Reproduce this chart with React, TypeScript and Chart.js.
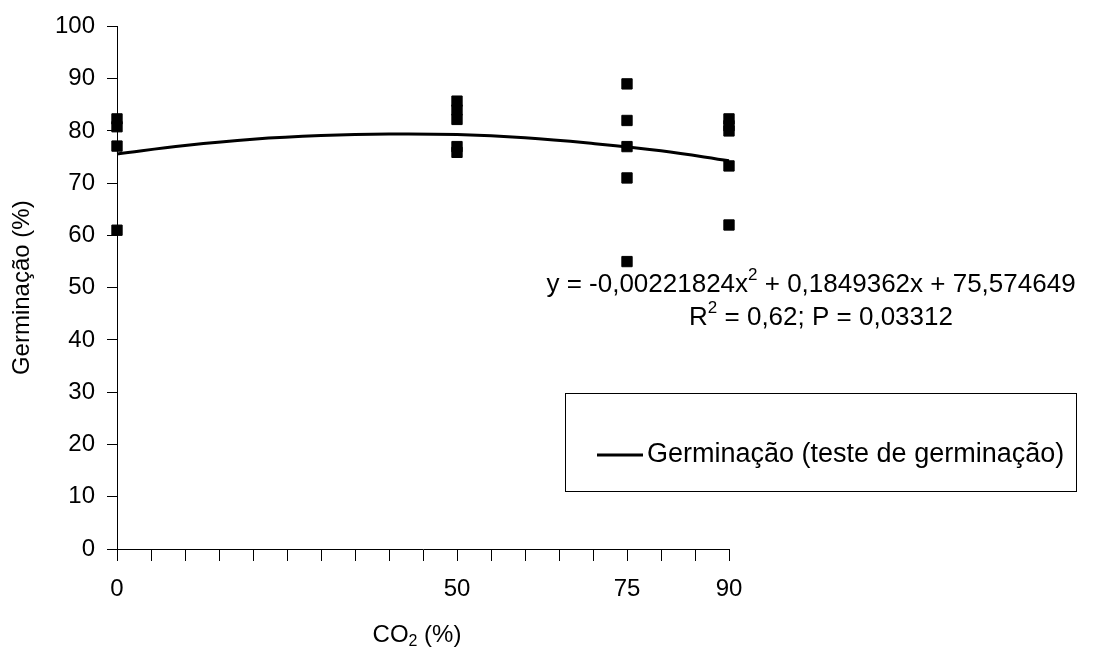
import React, { useEffect, useRef } from 'react';
import { Chart, registerables } from 'chart.js';

Chart.register(...registerables);

const FONT = '"Liberation Sans", Arial, Helvetica, sans-serif';

// Observed germination (%) per CO2 level (%)
const germAt0 = [82.3, 80.8, 77.1, 61];
const germAt50 = [85.7, 84.0, 82.2, 77.0, 75.9];
const germAt75 = [89, 82, 77, 71, 55];
const germAt90 = [82.3, 81, 80, 73.3, 62];

// Fitted curve
const fitX = [0, 10, 20, 30, 40, 50, 60, 70, 80, 90];
const fitY = [75.6, 77.2, 78.4, 79.1, 79.4, 79.3, 78.7, 77.6, 76.2, 74.3];

const xLabelled = [0, 50, 75, 90];
const legendLabel = 'Germinação (teste de germinação)';
const eqLine1 = [
  { t: 'y = -0,00221824x' },
  { t: '2', sup: true },
  { t: ' + 0,1849362x + 75,574649' },
];
const eqLine2 = [
  { t: 'R' },
  { t: '2', sup: true },
  { t: ' = 0,62; P = 0,03312' },
];
const xTitle = [{ t: 'CO' }, { t: '2', sub: true }, { t: ' (%)' }];
const yTitle = 'Germinação (%)';

type Run = { t: string; sup?: boolean; sub?: boolean };

const FS = 24;
const EQ_FS = 26;
const LEG_FS = 27;

function drawRuns(ctx: CanvasRenderingContext2D, runs: Run[], cx: number, cy: number, fs: number) {
  const small = Math.round(fs * 0.65);
  const widths = runs.map((r) => {
    ctx.font = `${r.sup || r.sub ? small : fs}px ${FONT}`;
    return ctx.measureText(r.t).width;
  });
  const total = widths.reduce((a, b) => a + b, 0);
  let x = cx - total / 2;
  ctx.textAlign = 'left';
  ctx.textBaseline = 'middle';
  runs.forEach((r, i) => {
    ctx.font = `${r.sup || r.sub ? small : fs}px ${FONT}`;
    let y = cy;
    if (r.sup) y = cy - fs * 0.38;
    if (r.sub) y = cy + fs * 0.28;
    ctx.fillText(r.t, x, y);
    x += widths[i];
  });
}

const annotations = {
  id: 'annotations',
  afterDraw(chart: any) {
    const ctx = chart.ctx as CanvasRenderingContext2D;
    const area = chart.chartArea;
    ctx.save();
    ctx.fillStyle = '#000';
    // equation
    drawRuns(ctx, eqLine1, 811, 285, EQ_FS);
    drawRuns(ctx, eqLine2, 821, 318, EQ_FS);
    // x title
    drawRuns(ctx, xTitle, (area.left + area.right) / 2 - 6, 635, FS);
    // y title
    ctx.save();
    ctx.translate(22, (area.top + area.bottom) / 2);
    ctx.rotate(-Math.PI / 2);
    ctx.font = `${FS}px ${FONT}`;
    ctx.textAlign = 'center';
    ctx.textBaseline = 'middle';
    ctx.fillText(yTitle, 0, 0);
    ctx.restore();
    // legend box
    ctx.strokeStyle = '#000';
    ctx.lineWidth = 1;
    ctx.strokeRect(565.5, 393.5, 511, 98);
    ctx.lineWidth = 3;
    ctx.beginPath();
    ctx.moveTo(597, 455);
    ctx.lineTo(643, 455);
    ctx.stroke();
    ctx.font = `${LEG_FS}px ${FONT}`;
    ctx.textAlign = 'left';
    ctx.textBaseline = 'middle';
    ctx.fillText(legendLabel, 647, 455);
    ctx.restore();
  },
};

export default function App() {
  const ref = useRef<HTMLCanvasElement>(null);

  useEffect(() => {
    if (!ref.current) return;
    const pts = (x: number, arr: number[]) => arr.map((y) => ({ x, y }));
    const chart = new Chart(ref.current, {
      type: 'scatter',
      data: {
        datasets: [
          {
            label: legendLabel,
            data: fitX.map((x, i) => ({ x, y: fitY[i] })),
            showLine: true,
            borderColor: '#000',
            borderWidth: 3,
            pointRadius: 0,
            tension: 0.4,
            fill: false,
            clip: false,
          } as any,
          {
            label: 'Observado',
            data: [...pts(0, germAt0), ...pts(50, germAt50), ...pts(75, germAt75), ...pts(90, germAt90)],
            backgroundColor: '#000',
            borderColor: '#000',
            borderWidth: 1,
            pointStyle: 'rect',
            pointRadius: 7.3,
            clip: false,
          } as any,
        ],
      },
      options: {
        responsive: false,
        animation: false,
        events: [],
        layout: { padding: { left: 0, top: 21, right: 365, bottom: 0 } },
        plugins: { legend: { display: false }, tooltip: { enabled: false } },
        scales: {
          x: {
            type: 'linear',
            min: 0,
            max: 90,
            afterFit: (s: any) => { s.height = 111; },
            ticks: {
              stepSize: 5,
              autoSkip: false,
              maxRotation: 0,
              padding: 14,
              color: '#000',
              font: { family: FONT, size: FS },
              callback: (v: any) => (xLabelled.includes(Number(v)) ? String(v) : ''),
            },
            grid: { drawOnChartArea: false, drawTicks: true, tickLength: 12, tickColor: '#000', tickWidth: 1 },
            border: { display: true, color: '#000', width: 1 },
          },
          y: {
            min: 0,
            max: 100,
            afterFit: (s: any) => { s.width = 117; },
            ticks: {
              stepSize: 10,
              padding: 12,
              color: '#000',
              font: { family: FONT, size: FS },
            },
            grid: { drawOnChartArea: false, drawTicks: true, tickLength: 10, tickColor: '#000', tickWidth: 1 },
            border: { display: true, color: '#000', width: 1 },
          },
        },
      },
      plugins: [annotations],
    });
    return () => chart.destroy();
  }, []);

  return (
    <div style={{ position: 'fixed', left: 0, top: 0, width: 1094, height: 660, background: '#fff' }}>
      <canvas ref={ref} width={1094} height={660} style={{ display: 'block' }} />
    </div>
  );
}
